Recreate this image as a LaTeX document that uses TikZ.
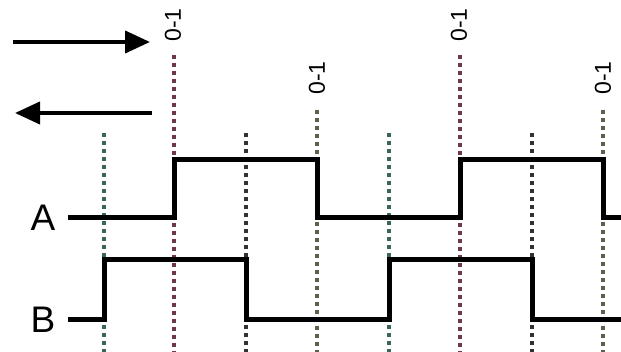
\documentclass[tikz,border=0pt]{standalone}
\usepackage{fontspec}
\setmainfont{Liberation Sans}
\usetikzlibrary{calc, positioning}
\usetikzlibrary{arrows.meta}

\definecolor{tealdot}{RGB}{60,100,95}
\definecolor{reddot}{RGB}{110,55,75}
\definecolor{graydot}{RGB}{50,50,50}
\definecolor{olivedot}{RGB}{95,95,80}

\tikzset{
  tick/.style={line width=3.8pt, dash pattern=on 4pt off 4pt},
  wave/.style={line width=5pt, line join=miter},
  dirarrow/.style={line width=4pt, -{Triangle[length=25pt, width=22pt]}},
  lbl/.style={font=\fontsize{37}{37}\selectfont, inner sep=0pt},
  cnt/.style={font=\fontsize{23}{23}\selectfont, rotate=90, inner sep=0pt}
}

\begin{document}
\begin{tikzpicture}[x=1pt, y=-1pt]
\useasboundingbox (0,0) rectangle (621,352);
\def\ahi{160}
\def\alo{218}
\def\bhi{260}
\def\blo{320}

% dotted reference lines
\foreach \xx/\yy/\cc in {104/133/tealdot, 174/55/reddot, 246/133/graydot, 317/110/olivedot,
                         389/133/tealdot, 460/55/reddot, 532/133/graydot, 603/110/olivedot}
  \draw[tick, \cc] (\xx,\yy) -- (\xx,352);

% counter labels
\node[cnt] (c1) at (173,25) {0-1};
\node[cnt] (c2) at (317,78) {0-1};
\node[cnt] (c3) at (459,25) {0-1};
\node[cnt] (c4) at (603,78) {0-1};

% direction arrows
\coordinate (r0) at (13,42);
\coordinate (r1) at (150,42);
\coordinate (l0) at (152,113);
\coordinate (l1) at (15,113);
\draw[dirarrow] (r0) -- (r1);
\draw[dirarrow] (l0) -- (l1);

% channel names
\node[lbl] (A) at (43,\alo) {A};
\node[lbl] (B) at (43,\blo) {B};

% signal A
\draw[wave] (68,\alo) -- (174,\alo) -- (174,\ahi) -- (317,\ahi) -- (317,\alo)
  -- (460,\alo) -- (460,\ahi) -- (603,\ahi) -- (603,\alo) -- (621,\alo);

% signal B
\draw[wave] (68,\blo) -- (104,\blo) -- (104,\bhi) -- (246,\bhi) -- (246,\blo)
  -- (389,\blo) -- (389,\bhi) -- (532,\bhi) -- (532,\blo) -- (621,\blo);
\end{tikzpicture}
\end{document}
